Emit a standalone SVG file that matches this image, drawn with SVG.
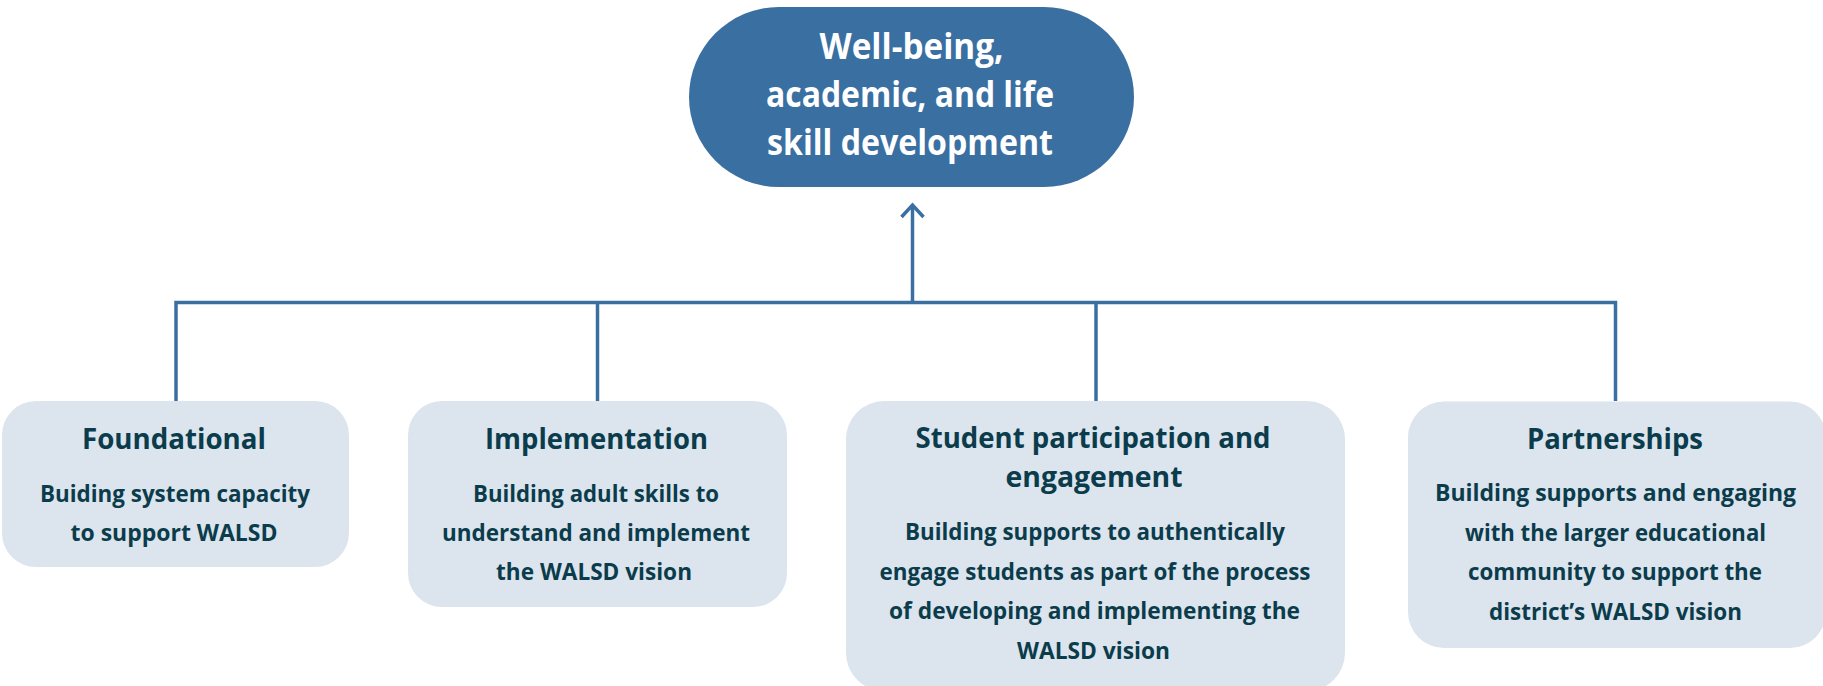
<svg xmlns="http://www.w3.org/2000/svg" width="1823" height="686" viewBox="0 0 1823 686">
<style>
.pill{fill:#3a6fa2}
.box{fill:#dce4ee}
.conn{fill:none;stroke:#3a6fa2;stroke-width:3.5}
text{font-family:"Open Sans","Noto Sans","Liberation Sans",sans-serif;font-weight:700;text-anchor:middle}
.top{fill:#ffffff;font-size:35px}
.title{fill:#0b3c4b;font-size:29px}
.body{fill:#0b3c4b;font-size:23.5px}
</style>
<rect width="1823" height="686" fill="#ffffff"/>
<g id="connectors">
<path class="conn" d="M176 401V302.5H1615.5V401"/>
<path class="conn" d="M597.5 302.5V401"/>
<path class="conn" d="M1096 302.5V401"/>
<path class="conn" d="M912.5 302.5V205"/>
<path class="conn" d="M901.5 217L912.5 205L923.5 217"/>
</g>
<g id="node-top">
<rect class="pill" x="689" y="7" width="445" height="180" rx="90" ry="90"/>
<text class="top" x="911.5" y="59" textLength="184" lengthAdjust="spacingAndGlyphs">Well-being,</text>
<text class="top" x="910" y="107" textLength="288" lengthAdjust="spacingAndGlyphs">academic, and life</text>
<text class="top" x="910" y="155" textLength="286" lengthAdjust="spacingAndGlyphs">skill development</text>
</g>
<g id="node-foundational">
<rect class="box" x="2" y="401" width="347" height="166" rx="34" ry="34"/>
<text class="title" x="174" y="449" textLength="184" lengthAdjust="spacingAndGlyphs">Foundational</text>
<text class="body" x="175" y="502" textLength="270" lengthAdjust="spacingAndGlyphs">Buiding system capacity</text>
<text class="body" x="174" y="541" textLength="207" lengthAdjust="spacingAndGlyphs">to support WALSD</text>
</g>
<g id="node-implementation">
<rect class="box" x="408" y="401" width="379" height="206" rx="34" ry="34"/>
<text class="title" x="596.5" y="449" textLength="223" lengthAdjust="spacingAndGlyphs">Implementation</text>
<text class="body" x="596" y="502" textLength="246" lengthAdjust="spacingAndGlyphs">Building adult skills to</text>
<text class="body" x="596" y="541" textLength="308" lengthAdjust="spacingAndGlyphs">understand and implement</text>
<text class="body" x="594" y="580" textLength="196" lengthAdjust="spacingAndGlyphs">the WALSD vision</text>
</g>
<g id="node-student">
<rect class="box" x="846" y="401" width="499" height="290" rx="38" ry="38"/>
<text class="title" x="1093" y="448" textLength="355" lengthAdjust="spacingAndGlyphs">Student participation and</text>
<text class="title" x="1094" y="487" textLength="177" lengthAdjust="spacingAndGlyphs">engagement</text>
<text class="body" x="1095" y="540" textLength="380" lengthAdjust="spacingAndGlyphs">Building supports to authentically</text>
<text class="body" x="1095" y="579.5" textLength="431" lengthAdjust="spacingAndGlyphs">engage students as part of the process</text>
<text class="body" x="1094.5" y="619" textLength="411" lengthAdjust="spacingAndGlyphs">of developing and implementing the</text>
<text class="body" x="1093.5" y="659" textLength="153" lengthAdjust="spacingAndGlyphs">WALSD vision</text>
</g>
<g id="node-partnerships">
<rect class="box" x="1408" y="401.5" width="418" height="246.5" rx="36" ry="36"/>
<text class="title" x="1615" y="448.5" textLength="176" lengthAdjust="spacingAndGlyphs">Partnerships</text>
<text class="body" x="1615.5" y="501" textLength="361" lengthAdjust="spacingAndGlyphs">Building supports and engaging</text>
<text class="body" x="1615.5" y="540.5" textLength="301" lengthAdjust="spacingAndGlyphs">with the larger educational</text>
<text class="body" x="1615" y="580" textLength="294" lengthAdjust="spacingAndGlyphs">community to support the</text>
<text class="body" x="1615.5" y="619.5" textLength="253" lengthAdjust="spacingAndGlyphs">district’s WALSD vision</text>
</g>
</svg>
